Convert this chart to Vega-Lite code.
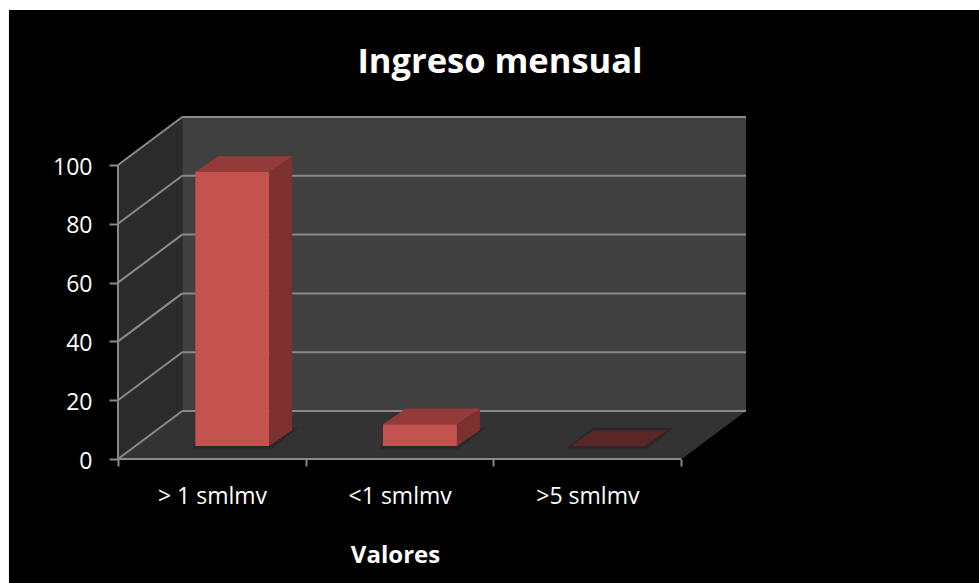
{
"$schema":"https://vega.github.io/schema/vega-lite/v6.json",
"width":628,"height":342,
"autosize":{"type":"none"},
"padding":{"left":118,"right":233,"top":117,"bottom":124},
"background":"white",
"title":{"text":"Ingreso mensual","font":"Open Sans","fontSize":34.5,"fontWeight":"bold","color":"white","anchor":"middle","frame":"group","dx":68,"offset":-70},
"datasets":{
"barras":[{"categoria":"> 1 smlmv","pos":0,"valor":93.2},{"categoria":"<1 smlmv","pos":1,"valor":7.4},{"categoria":">5 smlmv","pos":2,"valor":0}],
"rejilla":[{"v":0},{"v":20},{"v":40},{"v":60},{"v":80},{"v":100}],
"marco":[{"x0":-0.581,"x1":4.588,"y0":-42.2,"y1":152.7}],
"fondo":[{"x0":0.342,"x1":3.346,"y0":16.33,"y1":116.33}],
"ejes":[{"x0":0,"x1":3,"y0":0,"y1":0},{"x0":0,"x1":0,"y0":0,"y1":100}],
"prof":[{"d":0},{"d":1}]
},
"encoding":{
 "x":{"type":"quantitative","scale":{"domain":[0,3.346],"nice":false,"zero":false},
   "axis":{"values":[0,1,2,3],"zindex":1,"grid":false,"domain":false,"tickColor":"#8a8a8a","tickSize":7,"tickWidth":2,"labelOffset":94,"labelPadding":19,"labelColor":"white","labelFont":"Open Sans","labelFontSize":23,"labelOverlap":false,"labelBound":false,"labelFlush":false,
    "labelExpr":"datum.value==0?'> 1 smlmv':datum.value==1?'<1 smlmv':datum.value==2?'>5 smlmv':''",
    "title":"Valores","titleColor":"white","titleFont":"Open Sans","titleFontSize":24,"titleFontWeight":"bold","titleX":277,"titleY":84,"titleAnchor":"middle"}},
 "y":{"type":"quantitative","scale":{"domain":[0,116.33],"nice":false,"zero":false},
   "axis":{"values":[0,20,40,60,80,100],"zindex":1,"grid":false,"domain":false,"tickColor":"#8a8a8a","tickSize":9,"tickWidth":2,"labelPadding":17,"labelOffset":2,"labelColor":"white","labelFont":"Open Sans","labelFontSize":23,"title":null}}
},
"layer":[
{"data":{"name":"marco"},"mark":{"type":"rect","color":"black"},
 "encoding":{"x":{"field":"x0"},"x2":{"field":"x1"},"y":{"field":"y0"},"y2":{"field":"y1"}}},
{"data":{"name":"fondo"},"mark":{"type":"rect","color":"#404040"},
 "encoding":{"x":{"field":"x0"},"x2":{"field":"x1"},"y":{"field":"y0"},"y2":{"field":"y1"}}},
{"data":{"name":"prof"},
 "transform":[{"calculate":"datum.d*0.342","as":"xw"},{"calculate":"datum.d*16.33","as":"y0"},{"calculate":"datum.y0+100","as":"y1"}],
 "mark":{"type":"area","color":"#2b2b2b","orient":"vertical"},
 "encoding":{"x":{"field":"xw"},"y":{"field":"y0"},"y2":{"field":"y1"}}},
{"data":{"name":"prof"},
 "transform":[{"calculate":"datum.d*0.342","as":"xw"},{"calculate":"datum.xw+3.004","as":"xe"},{"calculate":"datum.d*16.33","as":"y0"}],
 "mark":{"type":"area","color":"#333333","orient":"horizontal"},
 "encoding":{"y":{"field":"y0"},"x":{"field":"xw"},"x2":{"field":"xe"}}},
{"data":{"name":"rejilla"},
 "transform":[{"calculate":"datum.v+16.33","as":"yb"},{"calculate":"0.342","as":"x0"},{"calculate":"3.346","as":"x1"}],
 "mark":{"type":"rule","color":"#8a8a8a","strokeWidth":2},
 "encoding":{"x":{"field":"x0"},"x2":{"field":"x1"},"y":{"field":"yb"}}},
{"data":{"name":"rejilla"},
 "transform":[{"calculate":"[0,1]","as":"d"},{"flatten":["d"]},{"calculate":"datum.d*0.342","as":"xw"},{"calculate":"datum.v+datum.d*16.33","as":"yw"}],
 "mark":{"type":"line","color":"#8a8a8a","strokeWidth":2},
 "encoding":{"x":{"field":"xw"},"y":{"field":"yw"},"detail":{"field":"v"}}},
{"data":{"name":"ejes"},"mark":{"type":"rule","color":"#8a8a8a","strokeWidth":2},
 "encoding":{"x":{"field":"x0"},"x2":{"field":"x1"},"y":{"field":"y0"},"y2":{"field":"y1"}}},
{"data":{"name":"barras"},"transform":[{"calculate":"[0,1]","as":"d"},{"flatten":["d"]},{"calculate":"datum.pos+0.39+datum.d*0.14","as":"xa"},{"calculate":"datum.xa+0.43","as":"xb"},{"calculate":"3.6+datum.d*7","as":"ya"}],
 "mark":{"type":"area","color":"#292929","orient":"horizontal"},
 "encoding":{"y":{"field":"ya"},"x":{"field":"xa"},"x2":{"field":"xb"},"detail":{"field":"categoria"}}},
{"data":{"name":"barras"},"transform":[{"filter":"datum.valor>0"},{"calculate":"datum.pos+0.412","as":"xa"},{"calculate":"datum.xa+0.394","as":"xb"},{"calculate":"4.4","as":"ya"},{"calculate":"4.4+datum.valor","as":"yt"}],
 "mark":{"type":"rect","color":"#c4524e"},
 "encoding":{"x":{"field":"xa"},"x2":{"field":"xb"},"y":{"field":"ya"},"y2":{"field":"yt"}}},
{"data":{"name":"barras"},"transform":[{"filter":"datum.valor>0"},{"calculate":"[0,1]","as":"d"},{"flatten":["d"]},{"calculate":"datum.pos+0.806+datum.d*0.122","as":"xa"},{"calculate":"4.4+datum.d*5.4","as":"ya"},{"calculate":"datum.ya+datum.valor","as":"yb"}],
 "mark":{"type":"area","color":"#7d302f","orient":"vertical"},
 "encoding":{"x":{"field":"xa"},"y":{"field":"ya"},"y2":{"field":"yb"},"detail":{"field":"categoria"}}},
{"data":{"name":"barras"},"transform":[{"filter":"datum.valor>0"},{"calculate":"[0,1]","as":"d"},{"flatten":["d"]},{"calculate":"datum.pos+0.412+datum.d*0.122","as":"xa"},{"calculate":"datum.xa+0.394","as":"xb"},{"calculate":"4.4+datum.valor+datum.d*5.4","as":"ya"}],
 "mark":{"type":"area","color":"#923b38","orient":"horizontal"},
 "encoding":{"y":{"field":"ya"},"x":{"field":"xa"},"x2":{"field":"xb"},"detail":{"field":"categoria"}}},
{"data":{"name":"barras"},"transform":[{"filter":"datum.valor==0"},{"calculate":"[0,1]","as":"d"},{"flatten":["d"]},{"calculate":"datum.pos+0.412+datum.d*0.122","as":"xa"},{"calculate":"datum.xa+0.394","as":"xb"},{"calculate":"4.4+datum.d*5.4","as":"ya"}],
 "mark":{"type":"area","color":"#5a2626","orient":"horizontal"},
 "encoding":{"y":{"field":"ya"},"x":{"field":"xa"},"x2":{"field":"xb"},"detail":{"field":"categoria"}}}
]
}
